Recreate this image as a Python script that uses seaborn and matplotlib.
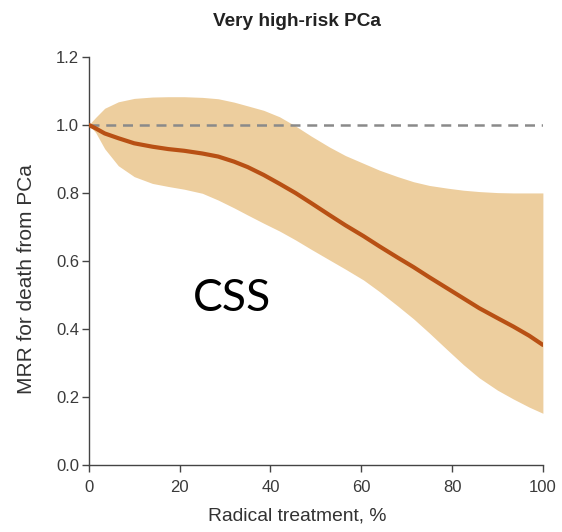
import matplotlib
matplotlib.use("Agg")
import matplotlib.pyplot as plt
import seaborn as sns
import pandas as pd

# Share of radical treatment (%) with the modelled mortality rate ratio
# and its confidence band
treatment_pct = [0, 1.5, 3.5, 6.5, 10, 14, 17.5, 21, 25, 28.5, 32, 35, 38.5, 42,
                 45.5, 49, 53, 56.5, 60.5, 64, 68, 71.5, 75, 79, 82.5, 86, 90,
                 93.5, 97, 100]
mrr = [1.0, 0.99, 0.975, 0.961, 0.946, 0.936, 0.929, 0.924, 0.916, 0.907, 0.892,
       0.876, 0.853, 0.827, 0.8, 0.77, 0.735, 0.705, 0.673, 0.643, 0.61, 0.582,
       0.552, 0.519, 0.49, 0.461, 0.432, 0.407, 0.38, 0.353]
ci_upper = [1.0, 1.022, 1.049, 1.068, 1.078, 1.082, 1.083, 1.083, 1.081, 1.077,
            1.067, 1.056, 1.043, 1.024, 0.997, 0.967, 0.935, 0.91, 0.887, 0.867,
            0.848, 0.833, 0.822, 0.814, 0.808, 0.804, 0.801, 0.8, 0.8, 0.8]
ci_lower = [1.0, 0.978, 0.93, 0.88, 0.848, 0.828, 0.819, 0.811, 0.799, 0.779,
            0.756, 0.735, 0.711, 0.688, 0.662, 0.634, 0.603, 0.576, 0.544, 0.51,
            0.468, 0.43, 0.388, 0.338, 0.295, 0.256, 0.22, 0.194, 0.17, 0.152]

x_ticks = [0, 20, 40, 60, 80, 100]
y_ticks = [0.0, 0.2, 0.4, 0.6, 0.8, 1.0, 1.2]

df = pd.DataFrame({"treatment": treatment_pct, "mrr": mrr,
                   "lo": ci_lower, "hi": ci_upper})

sns.set_style("ticks")
plt.rcParams["font.family"] = ["Liberation Sans", "DejaVu Sans"]

fig = plt.figure(figsize=(5.62, 5.32), dpi=100)
ax = fig.add_axes([0.158, 0.126, 0.808, 0.767])

ax.fill_between(df["treatment"], df["lo"], df["hi"], color="#EDCE9E",
                linewidth=0, zorder=1)
ax.axhline(1.0, color="#8A8A8A", linestyle=(0, (4, 2.7)), linewidth=1.8, zorder=2)
sns.lineplot(data=df, x="treatment", y="mrr", ax=ax, color="#B85014",
             linewidth=3, zorder=3)

ax.set_xlim(0, 100)
ax.set_ylim(0, 1.2)
ax.set_xticks(x_ticks)
ax.set_yticks(y_ticks)
ax.set_xticklabels([str(v) for v in x_ticks])
ax.set_yticklabels([f"{v:.1f}" for v in y_ticks])

for side in ("top", "right"):
    ax.spines[side].set_visible(False)
for side in ("left", "bottom"):
    ax.spines[side].set_color("#444444")
    ax.spines[side].set_linewidth(1.0)
ax.tick_params(axis="both", colors="#444444", labelcolor="#3a3a3a",
               length=5, width=1, labelsize=12)
ax.tick_params(axis="x", pad=6)
ax.tick_params(axis="y", pad=2)

ax.set_xlabel("Radical treatment, %", fontsize=13.9, color="#333333")
ax.xaxis.set_label_coords(0.459, -0.105)
ax.set_ylabel("MRR for death from PCa", fontsize=15, color="#333333")
ax.yaxis.set_label_coords(-0.117, 0.456)
ax.set_title("Very high-risk PCa", fontsize=13.7, fontweight="bold",
             color="#222222", pad=22, x=0.459)

ax.text(31.5, 0.49, "CSS", fontsize=32, color="black", ha="center", va="center",
        family=["Lato", "DejaVu Sans"])

fig.savefig("out.png", dpi=100)
